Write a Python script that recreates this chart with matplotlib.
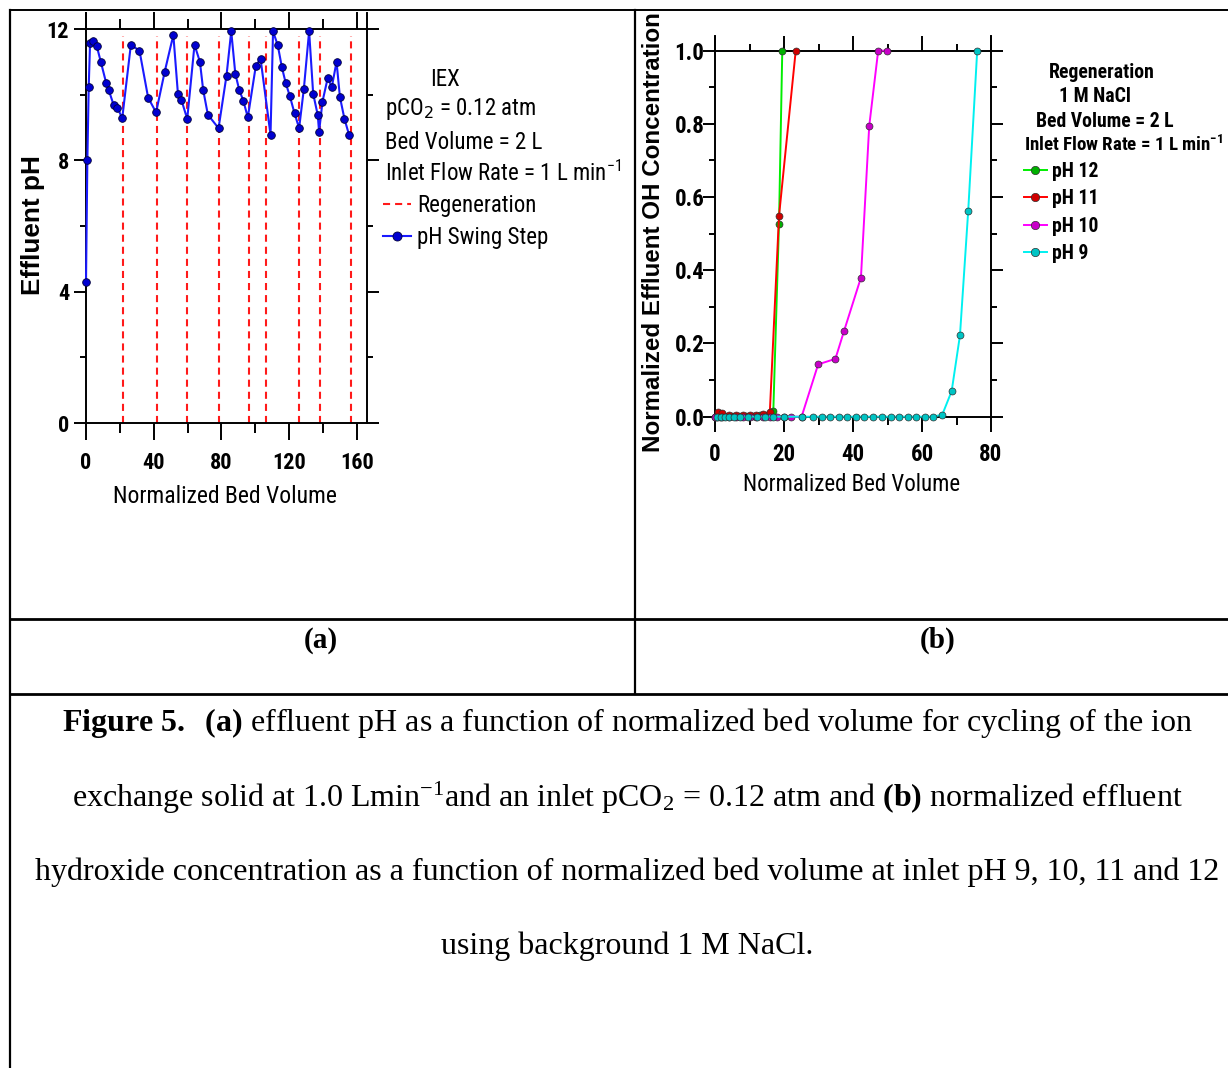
# ion exchange pH swing cycling and regeneration breakthrough figure

import matplotlib
matplotlib.use("Agg")
import matplotlib.pyplot as plt
from matplotlib.lines import Line2D
from matplotlib.ticker import FormatStrFormatter

# (a) effluent pH over repeated pH swing cycles
bed_volume = [0.0, 0.8, 1.6, 2.4, 4.0, 6.4, 8.8, 11.9, 13.5, 16.3, 18.6, 21.4,
              26.5, 31.6, 36.7, 41.4, 46.5, 51.6, 54.3, 56.3, 59.8,
              64.1, 67.3, 69.2, 72.0, 78.3, 83.0, 85.8, 88.2, 90.5, 92.9, 95.6,
              100.3, 103.1, 109.0, 110.5, 113.3, 115.7, 118.0, 120.4, 123.2, 125.9,
              128.7, 131.8, 134.2, 136.9, 137.7, 139.7, 142.8, 145.2, 148.0, 150.0, 152.7, 155.5]
effluent_ph = [4.3, 8.0, 10.23, 11.57, 11.62, 11.47, 10.99, 10.36, 10.13, 9.69, 9.6, 9.28,
               11.52, 11.34, 9.91, 9.46, 10.70, 11.82, 10.03, 9.85, 9.26,
               11.52, 11.0, 10.15, 9.39, 8.98, 10.58, 11.93, 10.64, 10.15, 9.82, 9.31,
               10.87, 11.1, 8.78, 11.93, 11.5, 10.84, 10.35, 9.96, 9.43, 8.98,
               10.18, 11.93, 10.03, 9.38, 8.87, 9.79, 10.51, 10.23, 11.0, 9.93, 9.26, 8.76]
regen_bv = [22.0, 41.7, 59.8, 78.5, 96.0, 106.1, 126.0, 138.1, 156.4]

# (b) normalized OH breakthrough at different inlet pH
ph12_bv = [0.5, 1.5, 3, 5, 7, 9, 11, 13, 15, 16.9, 18.55, 19.5]
ph12_c = [0.0, 0.0, 0.002, 0.002, 0.003, 0.003, 0.003, 0.004, 0.005, 0.015, 0.527, 1.0]

ph11_bv = [0, 1, 2, 4, 6, 8, 10, 12, 14, 15.9, 18.55, 23.4]
ph11_c = [0.0, 0.012, 0.01, 0.004, 0.005, 0.006, 0.005, 0.006, 0.007, 0.014, 0.548, 1.0]

ph10_bv = [0, 2, 4, 6, 8, 10, 12, 14, 16, 18, 20, 22, 25.1, 29.9, 34.9, 37.4, 42.3, 44.7, 47.3, 49.8]
ph10_c = [0, 0, 0, 0, 0, 0, 0, 0, 0, 0, 0, 0, 0.0, 0.143, 0.158, 0.234, 0.38, 0.794, 1.0, 1.0]

ph9_bv = [0.5, 1.7, 2.9, 4.0, 5.6, 7.2, 9.7, 12.1, 14.5, 16.9, 20.0, 25.1, 28.5, 30.9,
          33.3, 35.9, 38.3, 40.9, 43.3, 45.9, 48.3, 50.9, 53.4, 55.8, 58.4, 60.8, 63.3,
          65.9, 68.6, 71.0, 73.4, 76.0]
ph9_c = [0, 0, 0, 0, 0, 0, 0, 0, 0, 0, 0, 0, 0, 0,
         0, 0, 0, 0, 0, 0, 0, 0, 0, 0, 0, 0, 0,
         0.006, 0.07, 0.222, 0.563, 1.0]

series_b = [("pH 12", ph12_bv, ph12_c, "#00ee00", "#00b000"),
            ("pH 11", ph11_bv, ph11_c, "#ff0000", "#d00000"),
            ("pH 10", ph10_bv, ph10_c, "#ff00ff", "#c800c8"),
            ("pH 9", ph9_bv, ph9_c, "#00f0f0", "#00c4c4")]

plt.rcParams["font.family"] = ["Roboto Condensed", "DejaVu Sans"]
plt.rcParams["mathtext.fontset"] = "custom"
plt.rcParams["mathtext.rm"] = "Liberation Serif"
plt.rcParams["mathtext.bf"] = "Liberation Serif:bold"
plt.rcParams["mathtext.it"] = "Liberation Serif:italic"

W, H = 1228, 1068
fig = plt.figure(figsize=(W / 100, H / 100), dpi=100)


def fx(px):
    return px / W


def fy(py):
    return 1 - py / H


def style_axes(ax, top, xmaj, xmin):
    for s in ax.spines.values():
        s.set_linewidth(1.4)
    ax.spines["top"].set_visible(False)
    for a in (ax, top):
        a.tick_params(axis="x", which="major", direction="out", length=xmaj, width=1.4)
        a.tick_params(axis="x", which="minor", direction="out", length=xmin, width=1.4)
    ax.tick_params(axis="y", which="major", direction="out", length=8.6, width=1.4)
    ax.tick_params(axis="y", which="minor", direction="out", length=4.5, width=1.4)
    ax.tick_params(which="both", right=True)
    top.tick_params(which="both", labeltop=False)
    top.spines["top"].set_linewidth(1.4)


# ---- panel (a)
ax1 = fig.add_axes([fx(86), fy(423), 281 / W, 410.4 / H])
ax1.vlines(regen_bv, 0, 11.8, colors="#ff1a1a", linestyles=(0, (3.4, 2.4)), linewidth=1.5)
ax1.plot(bed_volume, effluent_ph, color="#1a1aff", lw=1.5, marker="o", ms=5.5,
         mfc="#0000d0", mec="#00003a", mew=0.6, clip_on=False, zorder=3)
ax1.set_xlim(0, 166)
ax1.set_ylim(0, 12.5)
ax1.set_xticks([0, 40, 80, 120, 160])
ax1.set_xticks([20, 60, 100, 140], minor=True)
ax1.set_yticks([0, 4, 8, 12])
ax1.set_yticks([2, 6, 10], minor=True)
top1 = ax1.secondary_xaxis(12 / 12.5)
top1.set_xticks([0, 40, 80, 120, 160])
top1.set_xticks([20, 60, 100, 140], minor=True)
style_axes(ax1, top1, 12.2, 7.0)
ax1.tick_params(axis="x", labelsize=16, pad=9)
ax1.tick_params(axis="y", labelsize=16, pad=3.5)
plt.setp(ax1.get_xticklabels() + ax1.get_yticklabels(), fontweight="bold")
ax1.set_xlabel("Normalized Bed Volume", fontsize=17)
ax1.xaxis.set_label_coords(0.495, -0.151)
ax1.set_ylabel("Effluent pH", family="Liberation Sans", fontweight="bold", fontsize=18.8)
ax1.yaxis.set_label_coords(-0.146, 0.482)

fig.text(fx(445), fy(79), "IEX", ha="center", va="center", fontsize=16.5)
fig.text(fx(385), fy(109), "pCO$_2$ = 0.12 atm", ha="left", va="center", fontsize=16.5,
         math_fontfamily="dejavusans")
fig.text(fx(385), fy(143), "Bed Volume = 2 L", ha="left", va="center", fontsize=16.5)
fig.text(fx(385), fy(173), "Inlet Flow Rate = 1 L min$^{\\mathregular{-1}}$", ha="left",
         va="center", fontsize=16.5, math_fontfamily="dejavusans")
h_regen = Line2D([], [], color="#ff1a1a", lw=1.5, ls=(0, (3.4, 2.4)))
h_swing = Line2D([], [], color="#1a1aff", lw=1.5, marker="o", ms=6.5,
                 mfc="#0000d0", mec="#00003a", mew=0.6)
ax1.legend([h_regen, h_swing], ["Regeneration", "pH Swing Step"], loc="upper left",
           bbox_to_anchor=(fx(383), fy(194)), bbox_transform=fig.transFigure,
           frameon=False, fontsize=16.5, handlelength=1.2, handletextpad=0.3,
           labelspacing=0.38, borderpad=0, borderaxespad=0)

# ---- panel (b)
ax2 = fig.add_axes([fx(715), fy(416.7), 276 / W, 380.7 / H])
for name, bv, c, line_c, mark_c in series_b:
    ax2.plot(bv, c, color=line_c, lw=1.4, marker="o", ms=5, mfc=mark_c, mec="#303030",
             mew=0.5, clip_on=False, zorder=3, label=name)
ax2.set_xlim(0, 80)
ax2.set_ylim(0, 1.04)
ax2.set_xticks([0, 20, 40, 60, 80])
ax2.set_xticks([10, 30, 50, 70], minor=True)
ax2.set_yticks([0, 0.2, 0.4, 0.6, 0.8, 1.0])
ax2.set_yticks([0.1, 0.3, 0.5, 0.7, 0.9], minor=True)
ax2.yaxis.set_major_formatter(FormatStrFormatter("%.1f"))
top2 = ax2.secondary_xaxis(1.0 / 1.04)
top2.set_xticks([0, 20, 40, 60, 80])
top2.set_xticks([10, 30, 50, 70], minor=True)
style_axes(ax2, top2, 10.8, 5.4)
ax2.tick_params(axis="x", labelsize=16.5, pad=8)
ax2.tick_params(axis="y", labelsize=16.5, pad=-1)
plt.setp(ax2.get_xticklabels() + ax2.get_yticklabels(), fontweight="bold")
ax2.set_xlabel("Normalized Bed Volume", fontsize=16.5)
ax2.xaxis.set_label_coords(0.493, -0.148)
ax2.set_ylabel("Normalized Effluent OH Concentration", family="Liberation Sans",
               fontweight="bold", fontsize=17.4)
ax2.yaxis.set_label_coords(-0.181, 0.485)

fig.text(fx(1102), fy(73), "Regeneration", ha="center", va="center", fontsize=14.2,
         fontweight="bold")
fig.text(fx(1095), fy(97), "1 M NaCl", ha="center", va="center", fontsize=14.2,
         fontweight="bold")
fig.text(fx(1105), fy(122), "Bed Volume = 2 L", ha="center", va="center", fontsize=14.2,
         fontweight="bold")
fig.text(fx(1123), fy(145), "Inlet Flow Rate = 1 L min$^{\\mathregular{-1}}$", ha="center",
         va="center", fontsize=13.6, fontweight="bold", math_fontfamily="dejavusans")
ax2.legend(loc="upper left", bbox_to_anchor=(fx(1024), fy(162)),
           bbox_transform=fig.transFigure, frameon=False,
           prop={"size": 14.2, "weight": "bold"}, handlelength=1.15, handletextpad=0.25,
           labelspacing=0.42, borderpad=0, borderaxespad=0, markerscale=1.2)

# ---- table rules and captions
rules = [((10, 10), (10, 1068), 1.6), ((10, 1228), (10, 10), 1.4),
         ((635, 635), (10, 694), 1.6), ((10, 1228), (619, 619), 2.0),
         ((10, 1228), (694, 694), 2.0)]
for xs, ys, lw in rules:
    fig.add_artist(Line2D([fx(x) for x in xs], [fy(y) for y in ys], color="black", lw=lw))

fig.text(fx(321), fy(640), "(a)", family="Liberation Serif", fontweight="bold", fontsize=21,
         ha="center", va="center")
fig.text(fx(938), fy(640), "(b)", family="Liberation Serif", fontweight="bold", fontsize=21,
         ha="center", va="center")

caption = [
    r"$\mathbf{Figure\ 5.}$  $\mathbf{(a)}$ effluent pH as a function of normalized bed volume for cycling of the ion",
    r"exchange solid at 1.0 Lmin$^{-1}$and an inlet pCO$_2$ = 0.12 atm and $\mathbf{(b)}$ normalized effluent",
    "hydroxide concentration as a function of normalized bed volume at inlet pH 9, 10, 11 and 12",
    "using background 1 M NaCl.",
]
for i, line in enumerate(caption):
    fig.text(fx(627), fy(723 + 74.5 * i), line, family="Liberation Serif", fontsize=23,
             ha="center", va="center", math_fontfamily="custom")

fig.savefig("out.png", dpi=100)
